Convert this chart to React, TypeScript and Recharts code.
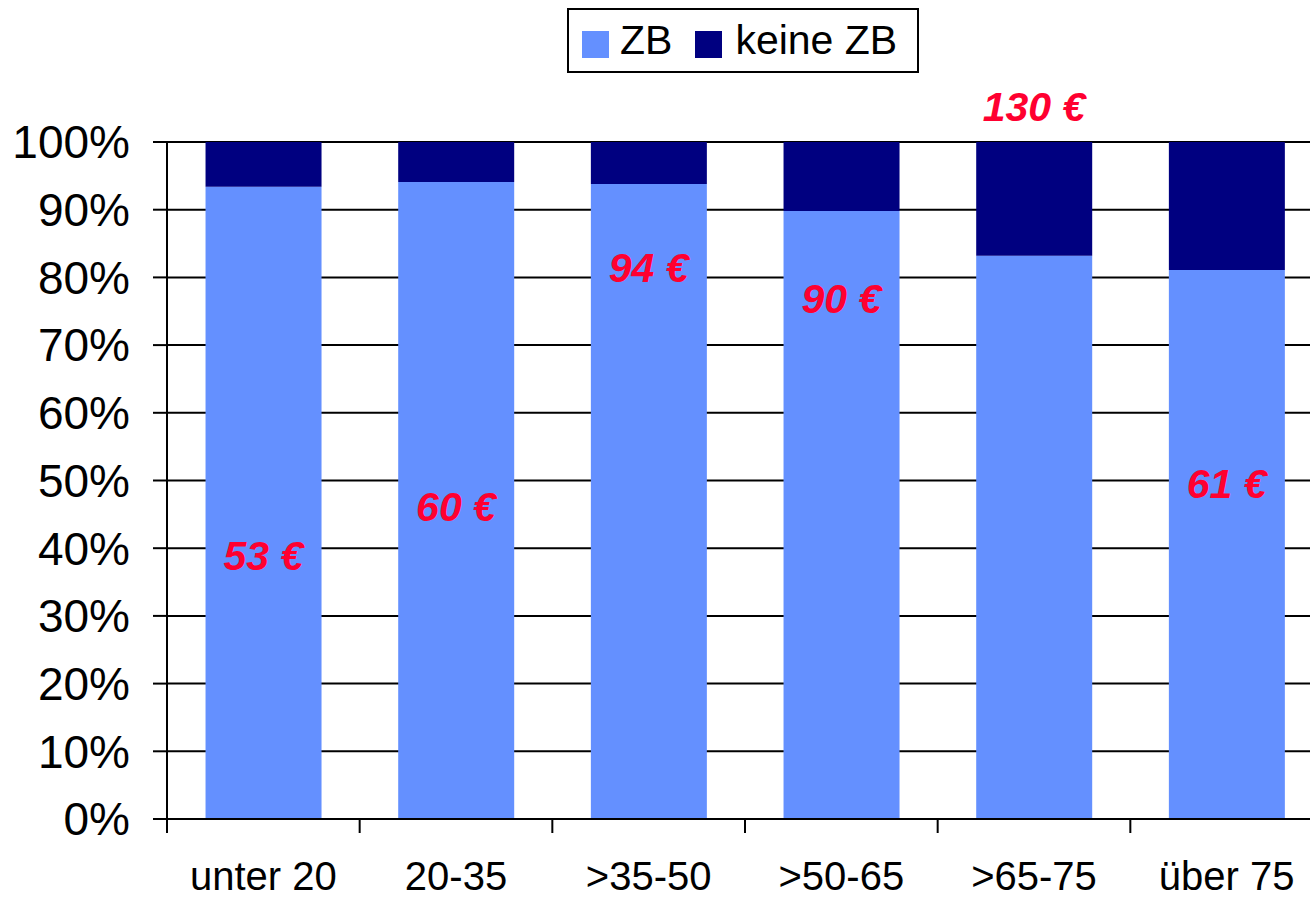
import {
  Bar,
  BarChart,
  CartesianGrid,
  Legend,
  ReferenceDot,
  XAxis,
  YAxis,
} from "recharts";

const FONT = "'Liberation Sans', Arial, sans-serif";

// Altersgruppen
const categories = ["unter 20", "20-35", ">35-50", ">50-65", ">65-75", "über 75"];
// Anteile in %
const zbShare = [93.4, 94.1, 93.8, 89.8, 83.2, 81.1];
const keineZbShare = [6.6, 5.9, 6.2, 10.2, 16.8, 18.9];
// Beträge und Höhe (in %) der Beschriftung
const euroLabels = ["53 €", "60 €", "94 €", "90 €", "130 €", "61 €"];
const euroLabelAt = [39.0, 46.1, 81.5, 76.9, 105.2, 49.5];
const yTicks = [0, 10, 20, 30, 40, 50, 60, 70, 80, 90, 100];

const data = categories.map((name, i) => ({
  name,
  zb: zbShare[i],
  keine: keineZbShare[i],
}));

function CategoryTick(props: any) {
  const { x, y, payload } = props;
  const left = x - (payload?.offset ?? 0);
  return (
    <g>
      <line x1={left} y1={y} x2={left} y2={y + 14} stroke="#000" strokeWidth={2} />
      <text
        x={x}
        y={y + 71}
        textAnchor="middle"
        fill="#000"
        fontSize={40}
        fontFamily={FONT}
      >
        {payload.value}
      </text>
    </g>
  );
}

function EuroLabel(props: any) {
  const vb = props.viewBox || { x: props.x, y: props.y, width: 0, height: 0 };
  const cx = vb.x + (vb.width || 0) / 2;
  const cy = vb.y + (vb.height || 0) / 2;
  return (
    <text
      x={cx}
      y={cy}
      dy="0.355em"
      textAnchor="middle"
      fill="#FF0030"
      fontSize={41}
      fontWeight="bold"
      fontStyle="italic"
      fontFamily={FONT}
    >
      {props.value}
    </text>
  );
}

function LegendBox(props: any) {
  const items = props.payload || [];
  return (
    <div
      style={{
        boxSizing: "border-box",
        width: 352,
        height: 65,
        border: "2px solid #000",
        background: "#fff",
        display: "flex",
        alignItems: "center",
        paddingLeft: 13,
        fontFamily: FONT,
        fontSize: 41,
        color: "#000",
        lineHeight: 1,
      }}
    >
      {items.map((item: any, i: number) => (
        <div
          key={item.value}
          style={{ display: "flex", alignItems: "center", marginLeft: i === 0 ? 0 : 23 }}
        >
          <span
            style={{
              display: "inline-block",
              width: 27,
              height: 27,
              background: item.color,
              marginRight: i === 0 ? 11 : 13,
              marginTop: 8,
            }}
          />
          <span>{item.value}</span>
        </div>
      ))}
    </div>
  );
}

export default function App() {
  return (
    <div
      style={{
        position: "absolute",
        left: 0,
        top: 0,
        width: 1310,
        height: 900,
        overflow: "hidden",
        background: "#fff",
        fontFamily: FONT,
      }}
    >
      <BarChart
        width={1323}
        height={900}
        data={data}
        margin={{ top: 142, right: 0, left: 0, bottom: 0 }}
        barCategoryGap="20%"
      >
        <CartesianGrid vertical={false} stroke="#000" strokeWidth={2} />
        <XAxis
          dataKey="name"
          height={81}
          tickLine={false}
          tickSize={0}
          tickMargin={0}
          axisLine={{ stroke: "#000", strokeWidth: 2 }}
          tick={<CategoryTick />}
          interval={0}
        />
        <YAxis
          width={167}
          domain={[0, 100]}
          ticks={yTicks}
          tickFormatter={(v) => `${v}%`}
          tickSize={14}
          tickMargin={23}
          axisLine={{ stroke: "#000", strokeWidth: 2 }}
          tickLine={{ stroke: "#000", strokeWidth: 2 }}
          tick={{ fill: "#000", fontSize: 46, fontFamily: FONT }}
          interval={0}
        />
        <Legend
          layout="horizontal"
          verticalAlign="middle"
          align="center"
          wrapperStyle={{ left: 567, top: 8, width: 352, height: 65 }}
          content={<LegendBox />}
        />
        <Bar dataKey="zb" name="ZB" stackId="a" fill="#6490FF" isAnimationActive={false} />
        <Bar
          dataKey="keine"
          name="keine ZB"
          stackId="a"
          fill="#000080"
          isAnimationActive={false}
        />
        {categories.map((c, i) => (
          <ReferenceDot
            key={c}
            x={c}
            y={euroLabelAt[i]}
            r={0}
            ifOverflow="visible"
            fill="none"
            stroke="none"
            label={{ value: euroLabels[i], content: EuroLabel }}
          />
        ))}
      </BarChart>
    </div>
  );
}
